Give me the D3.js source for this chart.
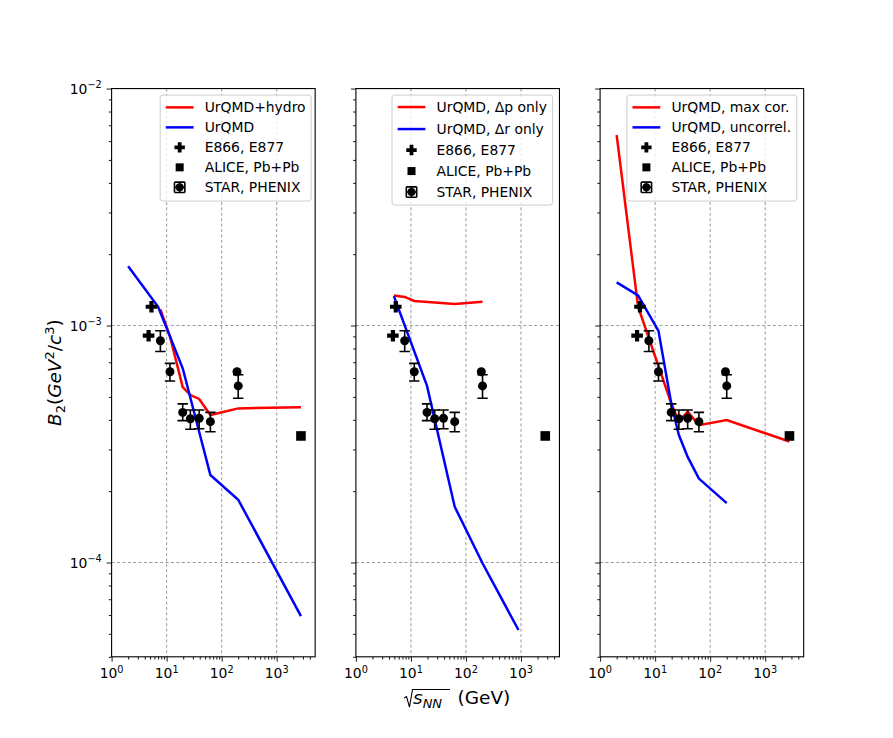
<!DOCTYPE html>
<html><head><meta charset="utf-8">
<script src="https://cdn.jsdelivr.net/npm/d3@7"></script>
<style>body{margin:0;background:#fff}svg{display:block}text{font-family:"DejaVu Sans",sans-serif}</style>
</head><body><svg id="c" width="893" height="738"></svg>
<script>
// ---- data ----
const e866X=[4.7,5.3], e866Y=[9.06e-4,1.2e-3];
const aliceX=[2760], aliceY=[3.42e-4];
const starX=[7.7,11.5,19.6,27,39,62.4,190,200];
const starY=[8.63e-4,6.38e-4,4.3e-4,4.04e-4,4.06e-4,3.93e-4,6.38e-4,5.56e-4];
const starLo=[7.77e-4,5.83e-4,3.97e-4,3.65e-4,3.67e-4,3.56e-4,6.38e-4,4.93e-4];
const starHi=[9.5e-4,6.92e-4,4.67e-4,4.4e-4,4.4e-4,4.3e-4,6.38e-4,6.2e-4];

const hydroX=[7.7,11.5,19.6,27,39,62.4,200,2760];
const hydroY=[1.17e-3,9.0e-4,5.5e-4,5.09e-4,4.9e-4,4.19e-4,4.47e-4,4.52e-4];
const urqmdX=[2,7,19.6,62.4,200,2760];
const urqmdY=[1.78e-3,1.2e-3,6.6e-4,2.34e-4,1.84e-4,5.94e-5];

const dpX=[4.9,7.7,11.5,27,62.4,200];
const dpY=[1.34e-3,1.32e-3,1.27e-3,1.25e-3,1.233e-3,1.26e-3];
const drX=[4.9,19.6,62.4,200,900];
const drY=[1.33e-3,5.56e-4,1.72e-4,9.93e-5,5.19e-5];

const maxX=[2,4.9,19.6,27,39,62.4,200,2760];
const maxY=[6.37e-3,1.2e-3,4.7e-4,3.93e-4,4.33e-4,3.8e-4,3.99e-4,3.24e-4];
const uncX=[2,4.9,11.5,19.6,27,39,62.4,200];
const uncY=[1.52e-3,1.34e-3,9.5e-4,4.7e-4,3.45e-4,2.79e-4,2.26e-4,1.78e-4];

const xTickVals=[1,10,100,1000], xTickExp=["0","1","2","3"];
const yTickVals=[1e-2,1e-3,1e-4], yTickExp=["\u22122","\u22123","\u22124"];

const panels=[
 {red:[hydroX,hydroY], blue:[urqmdX,urqmdY], labels:["UrQMD+hydro","UrQMD"]},
 {red:[dpX,dpY], blue:[drX,drY], labels:["UrQMD, \u0394p only","UrQMD, \u0394r only"]},
 {red:[maxX,maxY], blue:[uncX,uncY], labels:["UrQMD, max cor.","UrQMD, uncorrel."]}
];

(function(){
const svg=d3.select("#c");
const lefts=[111.6,355.9,600.1], pw=203.56, topY=88.56, botY=656.8;
const FS=13.9;
const y=d3.scaleLog().domain([4e-5,1e-2]).range([botY,topY]);

function plus(sel,cx,cy,a,w){
  sel.append("path").attr("d",`M${cx-w},${cy-a}H${cx+w}V${cy-w}H${cx+a}V${cy+w}H${cx+w}V${cy+a}H${cx-w}V${cy+w}H${cx-a}V${cy-w}H${cx-w}Z`).attr("fill","#000");
}

panels.forEach((p,i)=>{
  const x=d3.scaleLog().domain([1,5000]).range([lefts[i],lefts[i]+pw]);
  const g=svg.append("g");
  [10,100,1000].forEach(v=>g.append("line").attr("x1",x(v)).attr("x2",x(v)).attr("y1",topY).attr("y2",botY)
     .attr("stroke","#808080").attr("stroke-width",0.8).attr("stroke-dasharray","3,2.4"));
  [1e-3,1e-4].forEach(v=>g.append("line").attr("x1",lefts[i]).attr("x2",lefts[i]+pw).attr("y1",y(v)).attr("y2",y(v))
     .attr("stroke","#808080").attr("stroke-width",0.8).attr("stroke-dasharray","3,2.4"));
  const xm=[];for(let d=1;d<5000;d*=10)for(let k=2;k<=9;k++){if(d*k<5000)xm.push(d*k);}
  g.append("g").attr("transform",`translate(0,${botY})`).call(d3.axisBottom(x).tickValues(xTickVals).tickFormat("").tickSize(4.9));
  g.append("g").attr("transform",`translate(0,${botY})`).call(d3.axisBottom(x).tickValues(xm).tickFormat("").tickSize(2.8));
  const ym=[];for(let d=1e-5;d<1e-2;d*=10)for(let k=2;k<=9;k++){const v=d*k;if(v>=4e-5&&v<1e-2)ym.push(v);}
  g.append("g").attr("transform",`translate(${lefts[i]},0)`).call(d3.axisLeft(y).tickValues(yTickVals).tickFormat("").tickSize(4.9));
  g.append("g").attr("transform",`translate(${lefts[i]},0)`).call(d3.axisLeft(y).tickValues(ym).tickFormat("").tickSize(2.8));
  g.selectAll(".domain").remove();
  g.selectAll(".tick line").attr("stroke","#000").attr("stroke-width",0.9);
  g.append("rect").attr("x",lefts[i]).attr("y",topY).attr("width",pw).attr("height",botY-topY)
    .attr("fill","none").attr("stroke","#000").attr("stroke-width",1.1);
  xTickVals.forEach((v,k)=>{
    const t=g.append("text").attr("x",x(v)).attr("y",botY+21.5).attr("text-anchor","middle").attr("font-size",FS);
    t.append("tspan").text("10");
    t.append("tspan").attr("dy",-5.6).attr("font-size",FS*0.7).text(xTickExp[k]);
  });
  if(i===0){
    yTickVals.forEach((v,k)=>{
      const t=g.append("text").attr("x",lefts[0]-9.8).attr("y",y(v)+5).attr("text-anchor","end").attr("font-size",FS);
      t.append("tspan").text("10");
      t.append("tspan").attr("dy",-5.6).attr("font-size",FS*0.7).text(yTickExp[k]);
    });
  }
  const ln=d3.line().x(d=>x(d[0])).y(d=>y(d[1]));
  const clip="cl"+i;
  svg.append("clipPath").attr("id",clip).append("rect").attr("x",lefts[i]).attr("y",topY).attr("width",pw).attr("height",botY-topY);
  const dg=g.append("g").attr("clip-path",`url(#${clip})`);
  dg.append("path").attr("d",ln(d3.zip(p.red[0],p.red[1]))).attr("fill","none").attr("stroke","#ff0000").attr("stroke-width",2.5);
  dg.append("path").attr("d",ln(d3.zip(p.blue[0],p.blue[1]))).attr("fill","none").attr("stroke","#0000ff").attr("stroke-width",2.5);
  e866X.forEach((xv,k)=>plus(dg,x(xv),y(e866Y[k]),5.8,2.1));
  aliceX.forEach((xv,k)=>dg.append("rect").attr("x",x(xv)-4.8).attr("y",y(aliceY[k])-4.8).attr("width",9.6).attr("height",9.6).attr("fill","#000"));
  starX.forEach((xv,k)=>{
    const cx=x(xv);
    dg.append("line").attr("x1",cx).attr("x2",cx).attr("y1",y(starLo[k])).attr("y2",y(starHi[k])).attr("stroke","#000").attr("stroke-width",1.6);
    [starLo[k],starHi[k]].forEach(v=>{ if(v!==starY[k]) dg.append("line").attr("x1",cx-5.2).attr("x2",cx+5.2).attr("y1",y(v)).attr("y2",y(v)).attr("stroke","#000").attr("stroke-width",1.6);});
    dg.append("circle").attr("cx",cx).attr("cy",y(starY[k])).attr("r",4.5).attr("fill","#000");
  });
  // legend
  const rowsY= i===1 ? [12,34,55,76,97] : [12.3,32.3,52.3,72.3,92.3];
  const bh= i===1 ? 110 : 106;
  const lg=g.append("g");
  const labels=[p.labels[0],p.labels[1],"E866, E877","ALICE, Pb+Pb","STAR, PHENIX"];
  const ltop=topY+6.5, lright=lefts[i]+pw-(i===0?4:6.9);
  const tmp=lg.append("g");
  let maxW=0;
  labels.forEach(l=>{const t=tmp.append("text").attr("font-size",FS).text(l);maxW=Math.max(maxW,t.node().getComputedTextLength());});
  tmp.remove();
  const bw=5.6+27.8+11.1+maxW+5.6;
  const lleft=lright-bw;
  lg.append("rect").attr("x",lleft).attr("y",ltop).attr("width",bw).attr("height",bh).attr("rx",2.8)
    .attr("fill","#fff").attr("fill-opacity",0.8).attr("stroke","#cccccc").attr("stroke-width",1);
  const hx0=lleft+5.6, hx1=hx0+27.8, hc=(hx0+hx1)/2, tx=hx1+11.1;
  labels.forEach((l,k)=>{
    lg.append("text").attr("x",tx).attr("y",ltop+rowsY[k]+5).attr("font-size",FS).text(l);
  });
  lg.append("line").attr("x1",hx0).attr("x2",hx1).attr("y1",ltop+rowsY[0]).attr("y2",ltop+rowsY[0]).attr("stroke","#ff0000").attr("stroke-width",2.5);
  lg.append("line").attr("x1",hx0).attr("x2",hx1).attr("y1",ltop+rowsY[1]).attr("y2",ltop+rowsY[1]).attr("stroke","#0000ff").attr("stroke-width",2.5);
  plus(lg,hc,ltop+rowsY[2],5.2,1.9);
  lg.append("rect").attr("x",hc-4).attr("y",ltop+rowsY[3]-4).attr("width",8).attr("height",8).attr("fill","#000");
  const ey=ltop+rowsY[4], e=5.2;
  lg.append("path").attr("d",`M${hc-e},${ey}H${hc+e}M${hc},${ey-e}V${ey+e}M${hc-e},${ey-e}V${ey+e}M${hc+e},${ey-e}V${ey+e}M${hc-e},${ey-e}H${hc+e}M${hc-e},${ey+e}H${hc+e}`)
    .attr("stroke","#000").attr("stroke-width",1.6).attr("fill","none");
  lg.append("circle").attr("cx",hc).attr("cy",ey).attr("r",4).attr("fill","#000");
});

const yl=svg.append("text").attr("transform","translate(61,372.7) rotate(-90)").attr("text-anchor","middle").attr("font-size",18.5);
yl.append("tspan").attr("font-style","italic").text("B");
yl.append("tspan").attr("dy",4).attr("font-size",13).text("2");
yl.append("tspan").attr("dy",-4).text("(");
yl.append("tspan").attr("font-style","italic").text("GeV");
yl.append("tspan").attr("dy",-7).attr("font-size",13).text("2");
yl.append("tspan").attr("dy",7).text("/");
yl.append("tspan").attr("font-style","italic").text("c");
yl.append("tspan").attr("dy",-7).attr("font-size",13).text("3");
yl.append("tspan").attr("dy",7).text(")");

const xl=svg.append("g");
xl.append("path").attr("d","M404,698 L406.5,696.5 L409.5,707 L412.5,689.5 H450").attr("fill","none").attr("stroke","#000").attr("stroke-width",1.1);
const xt=xl.append("text").attr("x",413).attr("y",704).attr("font-size",18.5);
xt.append("tspan").attr("font-style","italic").text("s");
xt.append("tspan").attr("font-style","italic").attr("dy",3.5).attr("font-size",13).text("NN");
xl.append("text").attr("x",457.5).attr("y",704).attr("font-size",18.5).text("(GeV)");
})();
</script></body></html>
